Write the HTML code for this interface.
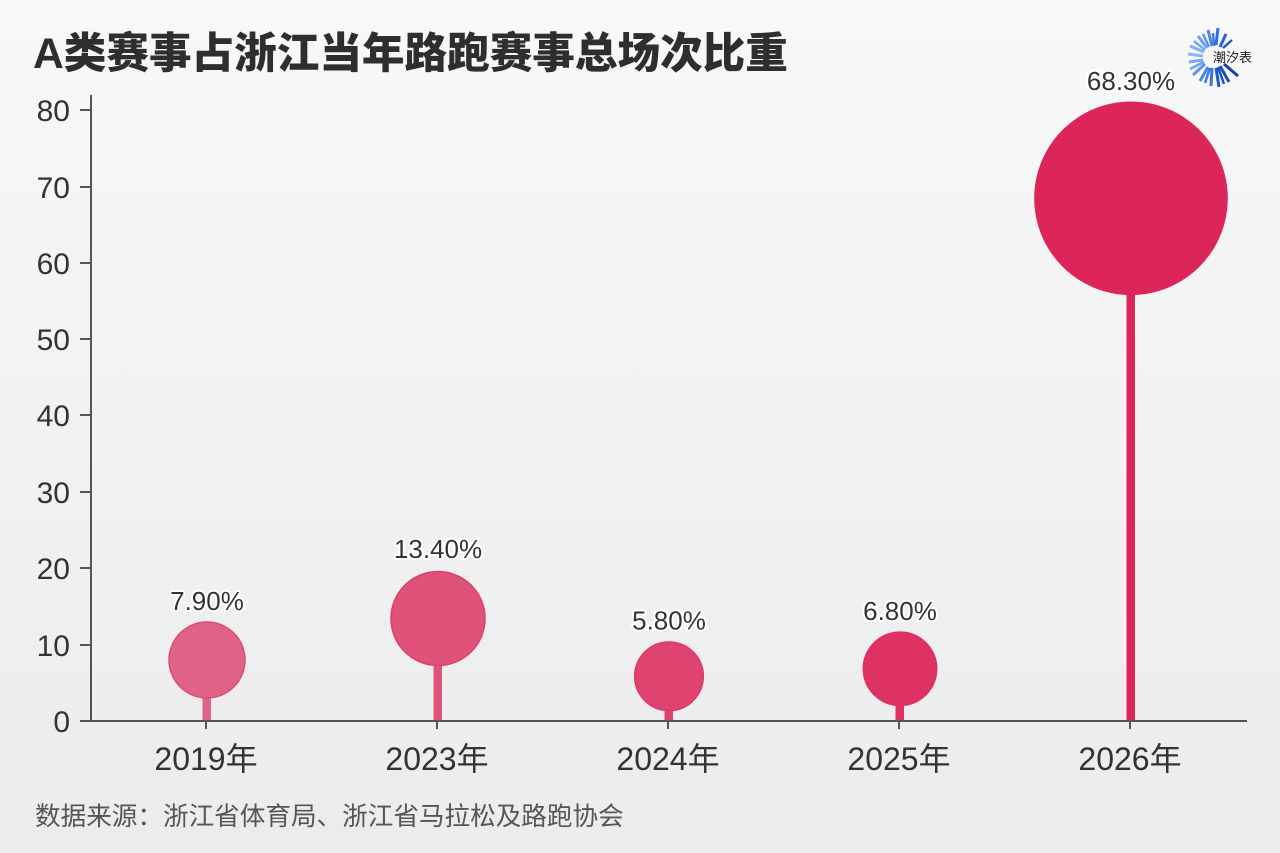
<!DOCTYPE html>
<html>
<head>
<meta charset="utf-8">
<style>
  html,body{margin:0;padding:0;}
  body{width:1280px;height:853px;overflow:hidden;background:#f2f2f2;}
  svg{display:block;}
  .t{font-family:"Liberation Sans","Noto Sans CJK SC",sans-serif;}
</style>
</head>
<body>
<svg width="1280" height="853" viewBox="0 0 1280 853" xmlns="http://www.w3.org/2000/svg">
  <defs>
    <linearGradient id="bg" x1="0" y1="0" x2="0" y2="1">
      <stop offset="0" stop-color="#f8f8f8"/>
      <stop offset="1" stop-color="#ebeced"/>
    </linearGradient>
  </defs>
  <rect x="0" y="0" width="1280" height="853" fill="url(#bg)"/>

  <!-- Title -->
  <text class="t" x="33" y="68" font-size="42.6" font-weight="900" fill="#2e2e2e">A类赛事占浙江当年路跑赛事总场次比重</text>

  <!-- Logo -->
  <g stroke-linecap="butt">
    <line x1="1212" y1="46" x2="1208" y2="30" stroke="#4a86ea" stroke-width="3"/>
    <line x1="1214" y1="46" x2="1213" y2="33" stroke="#3d7be6" stroke-width="2.5"/>
    <line x1="1216" y1="45" x2="1218" y2="28" stroke="#2f6fe0" stroke-width="3"/>
    <line x1="1220" y1="47" x2="1226" y2="34" stroke="#2a62d6" stroke-width="3"/>
    <line x1="1209" y1="47" x2="1203" y2="34" stroke="#5a93ee" stroke-width="2.5"/>
    <line x1="1207" y1="48" x2="1198" y2="36" stroke="#6aa2f2" stroke-width="3"/>
    <line x1="1205" y1="50" x2="1194" y2="41" stroke="#75abf4" stroke-width="2.5"/>
    <line x1="1204" y1="52" x2="1190" y2="46" stroke="#7db0f5" stroke-width="3"/>
    <line x1="1203" y1="56" x2="1188" y2="54" stroke="#86b6f6" stroke-width="3"/>
    <line x1="1203" y1="60" x2="1189" y2="62" stroke="#7aaaf3" stroke-width="3"/>
    <line x1="1204" y1="62" x2="1190" y2="69" stroke="#6ea3f2" stroke-width="2.5"/>
    <line x1="1205" y1="64" x2="1193" y2="75" stroke="#5f96ee" stroke-width="3"/>
    <line x1="1208" y1="67" x2="1200" y2="81" stroke="#4a86ea" stroke-width="3"/>
    <line x1="1210" y1="68" x2="1205" y2="83" stroke="#3f7be6" stroke-width="2.5"/>
    <line x1="1212" y1="68" x2="1211" y2="86" stroke="#3673e2" stroke-width="3"/>
    <line x1="1216" y1="68" x2="1219" y2="87" stroke="#1f58cc" stroke-width="3"/>
    <line x1="1218" y1="67" x2="1224" y2="84" stroke="#1c52c4" stroke-width="2.5"/>
    <line x1="1220" y1="66" x2="1229" y2="82" stroke="#1a4fc0" stroke-width="3"/>
    <line x1="1224" y1="64" x2="1238" y2="76" stroke="#163fa8" stroke-width="3"/>
    <line x1="1223" y1="48" x2="1232" y2="40" stroke="#2458cc" stroke-width="2.5"/>
  </g>
  <text class="t" x="1213" y="62" font-size="13" fill="#222">潮汐表</text>

  <!-- Y axis ticks & labels -->
  <g stroke="#555" stroke-width="2">
    <line x1="91" y1="95" x2="91" y2="722"/>
    <line x1="80" y1="721" x2="91" y2="721"/>
    <line x1="80" y1="645" x2="91" y2="645"/>
    <line x1="80" y1="568" x2="91" y2="568"/>
    <line x1="80" y1="492" x2="91" y2="492"/>
    <line x1="80" y1="415" x2="91" y2="415"/>
    <line x1="80" y1="339" x2="91" y2="339"/>
    <line x1="80" y1="263" x2="91" y2="263"/>
    <line x1="80" y1="187" x2="91" y2="187"/>
    <line x1="80" y1="110" x2="91" y2="110"/>
  </g>
  <g class="t" font-size="30" fill="#333" text-anchor="end">
    <text x="70" y="732">0</text>
    <text x="70" y="656">10</text>
    <text x="70" y="579">20</text>
    <text x="70" y="503">30</text>
    <text x="70" y="426">40</text>
    <text x="70" y="350">50</text>
    <text x="70" y="274">60</text>
    <text x="70" y="198">70</text>
    <text x="70" y="121">80</text>
  </g>

  <!-- Stems -->
  <rect x="202.5" y="690" width="8.5" height="31" fill="#e0648a"/>
  <rect x="433.5" y="650" width="8.5" height="71" fill="#df5279"/>
  <rect x="664.5" y="700" width="8.5" height="21" fill="#de446f"/>
  <rect x="895.5" y="690" width="8.5" height="31" fill="#de3264"/>
  <rect x="1126.5" y="250" width="8.5" height="471" fill="#dc2559"/>

  <!-- Bubbles -->
  <circle cx="207" cy="660" r="38" fill="#e06287" stroke="#e04a76" stroke-width="1.5"/>
  <circle cx="438" cy="618.5" r="47" fill="#df5279" stroke="#e03d6c" stroke-width="1.5"/>
  <circle cx="669" cy="676.3" r="34.3" fill="#de446f" stroke="#e03767" stroke-width="1.5"/>
  <circle cx="900" cy="668.8" r="36.8" fill="#de3264" stroke="#e02a60" stroke-width="1.2"/>
  <circle cx="1131" cy="198.3" r="96.8" fill="#dc2559"/>

  <!-- X axis -->
  <g stroke="#555" stroke-width="2">
    <line x1="90" y1="721" x2="1247" y2="721"/>
    <line x1="206" y1="721" x2="206" y2="729"/>
    <line x1="437" y1="721" x2="437" y2="729"/>
    <line x1="668" y1="721" x2="668" y2="729"/>
    <line x1="899" y1="721" x2="899" y2="729"/>
    <line x1="1130" y1="721" x2="1130" y2="729"/>
  </g>
  <g class="t" font-size="32" fill="#333" text-anchor="middle">
    <text x="206" y="770">2019年</text>
    <text x="437" y="770">2023年</text>
    <text x="668" y="770">2024年</text>
    <text x="899" y="770">2025年</text>
    <text x="1130" y="770">2026年</text>
  </g>

  <!-- Value labels -->
  <g class="t" font-size="26" text-anchor="middle" stroke="#ffffff" stroke-width="4" stroke-linejoin="round" fill="#ffffff">
    <text x="207" y="610">7.90%</text>
    <text x="438" y="558">13.40%</text>
    <text x="669" y="629.5">5.80%</text>
    <text x="900" y="620">6.80%</text>
    <text x="1131" y="90">68.30%</text>
  </g>
  <g class="t" font-size="26" text-anchor="middle" fill="#333">
    <text x="207" y="610">7.90%</text>
    <text x="438" y="558">13.40%</text>
    <text x="669" y="629.5">5.80%</text>
    <text x="900" y="620">6.80%</text>
    <text x="1131" y="90">68.30%</text>
  </g>

  <!-- Source -->
  <text class="t" x="35" y="825" font-size="25.6" fill="#555">数据来源：浙江省体育局、浙江省马拉松及路跑协会</text>
</svg>
</body>
</html>
